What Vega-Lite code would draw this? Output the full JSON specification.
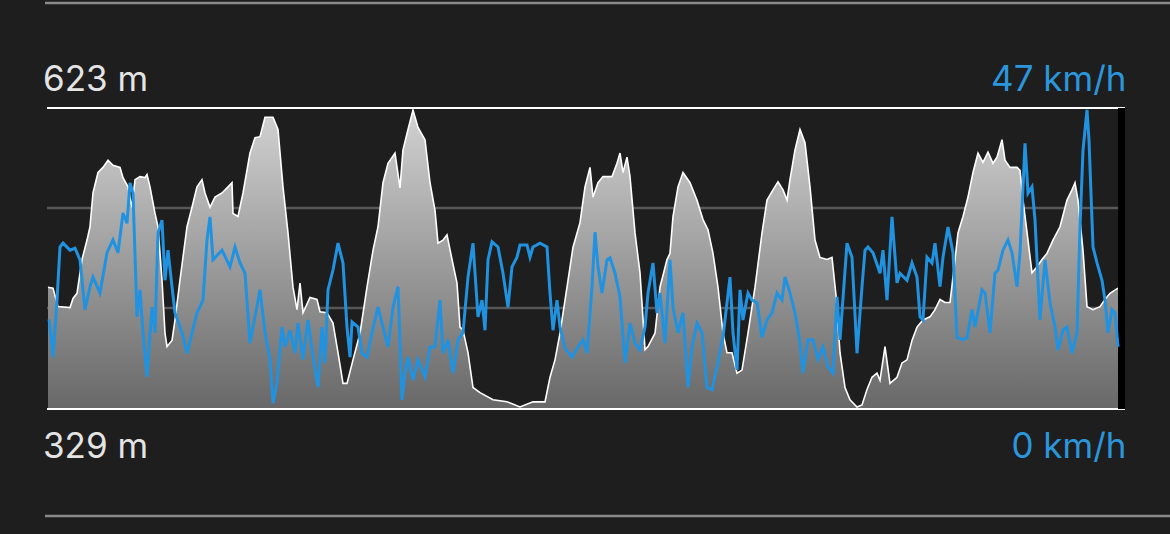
{
  "$schema": "https://vega.github.io/schema/vega-lite/v6.json",
  "width": 1078,
  "height": 301,
  "autosize": "none",
  "padding": {"left": 47, "top": 108, "right": 45, "bottom": 125},
  "background": "#1e1e1e",
  "config": {"view": {"stroke": null}},
  "datasets": {
    "elev": [
      {"d":48,"e":448},{"d":53,"e":447},{"d":58,"e":429},{"d":70,"e":428},{"d":73,"e":437},{"d":77,"e":442},{"d":82,"e":475},{"d":87,"e":494},{"d":90,"e":507},{"d":93,"e":540},{"d":98,"e":560},{"d":103,"e":565},{"d":108,"e":572},{"d":113,"e":567},{"d":120,"e":565},{"d":123,"e":555},{"d":128,"e":546},{"d":132,"e":526},{"d":135,"e":553},{"d":140,"e":556},{"d":145,"e":555},{"d":147,"e":558},{"d":150,"e":546},{"d":155,"e":520},{"d":158,"e":507},{"d":162,"e":455},{"d":165,"e":403},{"d":167,"e":390},{"d":172,"e":396},{"d":175,"e":416},{"d":180,"e":455},{"d":187,"e":507},{"d":192,"e":526},{"d":197,"e":546},{"d":202,"e":553},{"d":205,"e":540},{"d":210,"e":526},{"d":215,"e":536},{"d":222,"e":540},{"d":228,"e":546},{"d":232,"e":550},{"d":233,"e":520},{"d":238,"e":517},{"d":243,"e":540},{"d":250,"e":579},{"d":255,"e":594},{"d":260,"e":595},{"d":265,"e":614},{"d":273,"e":614},{"d":278,"e":602},{"d":283,"e":546},{"d":288,"e":501},{"d":293,"e":448},{"d":297,"e":426},{"d":300,"e":452},{"d":303,"e":423},{"d":310,"e":438},{"d":317,"e":436},{"d":320,"e":424},{"d":327,"e":423},{"d":333,"e":413},{"d":338,"e":384},{"d":343,"e":354},{"d":347,"e":354},{"d":353,"e":377},{"d":360,"e":403},{"d":367,"e":448},{"d":373,"e":484},{"d":378,"e":507},{"d":383,"e":550},{"d":388,"e":569},{"d":395,"e":579},{"d":400,"e":545},{"d":403,"e":582},{"d":408,"e":602},{"d":413,"e":621},{"d":418,"e":604},{"d":425,"e":592},{"d":430,"e":550},{"d":435,"e":523},{"d":438,"e":491},{"d":443,"e":494},{"d":447,"e":499},{"d":452,"e":475},{"d":457,"e":452},{"d":460,"e":409},{"d":463,"e":406},{"d":468,"e":384},{"d":473,"e":350},{"d":480,"e":345},{"d":493,"e":338},{"d":507,"e":336},{"d":520,"e":331},{"d":533,"e":336},{"d":545,"e":336},{"d":550,"e":360},{"d":555,"e":377},{"d":560,"e":403},{"d":567,"e":448},{"d":573,"e":487},{"d":580,"e":511},{"d":585,"e":546},{"d":590,"e":565},{"d":593,"e":536},{"d":598,"e":550},{"d":603,"e":556},{"d":612,"e":556},{"d":617,"e":569},{"d":620,"e":579},{"d":623,"e":560},{"d":627,"e":575},{"d":630,"e":556},{"d":635,"e":501},{"d":640,"e":462},{"d":645,"e":387},{"d":648,"e":390},{"d":655,"e":403},{"d":660,"e":448},{"d":667,"e":475},{"d":670,"e":481},{"d":673,"e":517},{"d":678,"e":546},{"d":683,"e":560},{"d":690,"e":550},{"d":697,"e":533},{"d":703,"e":514},{"d":708,"e":504},{"d":713,"e":481},{"d":718,"e":448},{"d":723,"e":403},{"d":727,"e":384},{"d":732,"e":384},{"d":737,"e":364},{"d":742,"e":367},{"d":748,"e":403},{"d":755,"e":448},{"d":762,"e":501},{"d":767,"e":533},{"d":773,"e":543},{"d":778,"e":551},{"d":783,"e":543},{"d":787,"e":533},{"d":790,"e":553},{"d":795,"e":582},{"d":800,"e":602},{"d":805,"e":589},{"d":810,"e":546},{"d":815,"e":494},{"d":820,"e":477},{"d":827,"e":475},{"d":832,"e":477},{"d":836,"e":440},{"d":840,"e":384},{"d":845,"e":350},{"d":850,"e":338},{"d":857,"e":331},{"d":862,"e":333},{"d":867,"e":348},{"d":872,"e":360},{"d":877,"e":364},{"d":880,"e":357},{"d":885,"e":390},{"d":890,"e":354},{"d":897,"e":360},{"d":902,"e":374},{"d":907,"e":377},{"d":912,"e":396},{"d":917,"e":409},{"d":923,"e":416},{"d":930,"e":419},{"d":935,"e":426},{"d":940,"e":436},{"d":945,"e":433},{"d":950,"e":433},{"d":953,"e":458},{"d":958,"e":501},{"d":963,"e":517},{"d":968,"e":536},{"d":973,"e":560},{"d":978,"e":579},{"d":983,"e":570},{"d":988,"e":580},{"d":993,"e":569},{"d":997,"e":575},{"d":1002,"e":592},{"d":1005,"e":572},{"d":1010,"e":565},{"d":1017,"e":565},{"d":1020,"e":562},{"d":1023,"e":533},{"d":1028,"e":494},{"d":1032,"e":462},{"d":1037,"e":468},{"d":1042,"e":475},{"d":1047,"e":481},{"d":1053,"e":494},{"d":1060,"e":507},{"d":1067,"e":533},{"d":1072,"e":543},{"d":1075,"e":550},{"d":1078,"e":533},{"d":1083,"e":484},{"d":1087,"e":429},{"d":1093,"e":426},{"d":1100,"e":429},{"d":1105,"e":436},{"d":1110,"e":442},{"d":1118,"e":447}
    ],
    "speed": [
      {"d":49,"s":14},{"d":50,"s":12.8},{"d":53,"s":8.1},{"d":57,"s":17.0},{"d":60,"s":25.3},{"d":63,"s":25.9},{"d":70,"s":24.8},{"d":75,"s":25.1},{"d":80,"s":23.3},{"d":85,"s":15.5},{"d":90,"s":19.1},{"d":93,"s":20.6},{"d":100,"s":18.1},{"d":107,"s":24.4},{"d":113,"s":26.4},{"d":118,"s":24.4},{"d":123,"s":30.6},{"d":127,"s":29.0},{"d":130,"s":35.3},{"d":133,"s":33.7},{"d":137,"s":14.4},{"d":140,"s":18.6},{"d":143,"s":11.9},{"d":147,"s":5.0},{"d":152,"s":15.9},{"d":155,"s":11.9},{"d":158,"s":27.5},{"d":162,"s":29.5},{"d":165,"s":20.1},{"d":168,"s":24.8},{"d":172,"s":19.1},{"d":175,"s":15.0},{"d":182,"s":11.9},{"d":187,"s":8.7},{"d":192,"s":11.9},{"d":197,"s":15.0},{"d":203,"s":17.0},{"d":207,"s":26.4},{"d":210,"s":30.0},{"d":213,"s":23.3},{"d":222,"s":24.8},{"d":230,"s":22.2},{"d":235,"s":25.3},{"d":240,"s":22.8},{"d":245,"s":21.2},{"d":250,"s":10.3},{"d":255,"s":14.4},{"d":260,"s":18.6},{"d":265,"s":11.9},{"d":270,"s":7.7},{"d":273,"s":0.9},{"d":277,"s":4.1},{"d":282,"s":12.8},{"d":285,"s":9.7},{"d":290,"s":12.3},{"d":295,"s":8.7},{"d":298,"s":13.4},{"d":303,"s":7.7},{"d":308,"s":13.9},{"d":313,"s":8.1},{"d":318,"s":3.4},{"d":322,"s":12.8},{"d":325,"s":7.2},{"d":328,"s":18.6},{"d":333,"s":21.7},{"d":338,"s":25.9},{"d":343,"s":22.8},{"d":347,"s":12.8},{"d":350,"s":8.1},{"d":352,"s":13.6},{"d":358,"s":12.8},{"d":362,"s":8.7},{"d":367,"s":8.1},{"d":372,"s":11.9},{"d":378,"s":15.9},{"d":383,"s":12.8},{"d":388,"s":9.7},{"d":393,"s":15.9},{"d":398,"s":19.1},{"d":402,"s":1.4},{"d":405,"s":5.6},{"d":408,"s":8.1},{"d":413,"s":4.5},{"d":418,"s":7.7},{"d":425,"s":5.0},{"d":430,"s":9.7},{"d":435,"s":9.7},{"d":440,"s":17.0},{"d":443,"s":8.7},{"d":448,"s":10.8},{"d":453,"s":5.6},{"d":458,"s":10.8},{"d":463,"s":11.9},{"d":468,"s":20.6},{"d":473,"s":25.9},{"d":478,"s":14.4},{"d":482,"s":17.0},{"d":485,"s":12.3},{"d":488,"s":23.3},{"d":492,"s":26.1},{"d":498,"s":25.3},{"d":503,"s":21.2},{"d":508,"s":15.9},{"d":512,"s":22.2},{"d":517,"s":23.7},{"d":520,"s":25.6},{"d":527,"s":25.6},{"d":530,"s":23.7},{"d":533,"s":25.3},{"d":540,"s":25.9},{"d":547,"s":25.3},{"d":550,"s":18.1},{"d":553,"s":12.3},{"d":557,"s":17.0},{"d":560,"s":12.8},{"d":565,"s":9.5},{"d":572,"s":8.1},{"d":578,"s":9.7},{"d":583,"s":10.8},{"d":587,"s":8.7},{"d":592,"s":19.1},{"d":595,"s":27.6},{"d":598,"s":22.2},{"d":602,"s":18.1},{"d":607,"s":23.3},{"d":610,"s":23.6},{"d":615,"s":21.2},{"d":620,"s":17.5},{"d":625,"s":7.2},{"d":630,"s":13.4},{"d":635,"s":10.3},{"d":640,"s":9.2},{"d":645,"s":12.8},{"d":648,"s":18.1},{"d":653,"s":22.8},{"d":657,"s":15.0},{"d":660,"s":18.1},{"d":665,"s":10.3},{"d":670,"s":23.3},{"d":673,"s":15.9},{"d":678,"s":11.9},{"d":683,"s":15.0},{"d":688,"s":3.4},{"d":692,"s":9.7},{"d":697,"s":13.4},{"d":702,"s":11.9},{"d":707,"s":3.4},{"d":712,"s":3.0},{"d":717,"s":6.6},{"d":723,"s":11.2},{"d":727,"s":16.6},{"d":730,"s":20.6},{"d":733,"s":11.9},{"d":737,"s":6.1},{"d":740,"s":18.6},{"d":743,"s":13.9},{"d":748,"s":18.1},{"d":752,"s":17.0},{"d":757,"s":16.6},{"d":762,"s":11.2},{"d":767,"s":13.9},{"d":772,"s":15.0},{"d":777,"s":18.1},{"d":782,"s":17.0},{"d":785,"s":20.6},{"d":790,"s":18.1},{"d":795,"s":15.0},{"d":800,"s":10.3},{"d":803,"s":5.6},{"d":808,"s":10.8},{"d":813,"s":10.8},{"d":818,"s":7.7},{"d":823,"s":9.7},{"d":828,"s":6.6},{"d":833,"s":5.6},{"d":837,"s":17.5},{"d":840,"s":10.8},{"d":847,"s":25.9},{"d":852,"s":23.7},{"d":857,"s":8.7},{"d":862,"s":19.1},{"d":865,"s":24.8},{"d":868,"s":25.3},{"d":873,"s":24.4},{"d":880,"s":21.2},{"d":883,"s":24.8},{"d":887,"s":17.0},{"d":892,"s":30.0},{"d":897,"s":19.7},{"d":900,"s":21.2},{"d":907,"s":20.1},{"d":912,"s":22.8},{"d":917,"s":20.6},{"d":920,"s":14.4},{"d":923,"s":13.9},{"d":927,"s":23.7},{"d":932,"s":22.8},{"d":935,"s":25.9},{"d":940,"s":19.1},{"d":943,"s":23.7},{"d":948,"s":28.4},{"d":953,"s":24.4},{"d":957,"s":11.2},{"d":963,"s":10.8},{"d":967,"s":11.1},{"d":972,"s":15.5},{"d":975,"s":12.8},{"d":982,"s":18.6},{"d":985,"s":18.1},{"d":990,"s":11.9},{"d":995,"s":21.2},{"d":998,"s":21.7},{"d":1003,"s":24.8},{"d":1008,"s":26.4},{"d":1012,"s":24.4},{"d":1017,"s":19.1},{"d":1020,"s":24.4},{"d":1025,"s":41.5},{"d":1028,"s":33.7},{"d":1032,"s":34.7},{"d":1035,"s":29.5},{"d":1040,"s":13.9},{"d":1045,"s":23.3},{"d":1050,"s":16.6},{"d":1055,"s":12.8},{"d":1058,"s":9.2},{"d":1063,"s":12.3},{"d":1067,"s":12.8},{"d":1072,"s":8.7},{"d":1077,"s":11.9},{"d":1080,"s":28.4},{"d":1083,"s":40.4},{"d":1087,"s":46.7},{"d":1089,"s":42.0},{"d":1093,"s":25.3},{"d":1097,"s":22.8},{"d":1102,"s":20.1},{"d":1105,"s":17.0},{"d":1108,"s":11.9},{"d":1112,"s":15.5},{"d":1115,"s":15.0},{"d":1118,"s":9.7}
    ],
    "hlines": [
      {"kind":"separator","x":45,"x2":1170,"e":725.6},
      {"kind":"separator","x":45,"x2":1170,"e":224.5},
      {"kind":"grid","x":47,"x2":1118,"e":525.3},
      {"kind":"grid","x":47,"x2":1118,"e":427.7}
    ],
    "frame": [
      {"x":47,"x2":1125,"e":623},
      {"x":47,"x2":1125,"e":329}
    ],
    "edges": [
      {"x":1118,"x2":1125,"e":329,"e2":623}
    ]
  },
  "encoding": {
    "x": {"field": "d", "type": "quantitative", "scale": {"domain": [47, 1125], "nice": false, "zero": false}, "axis": null}
  },
  "layer": [
    {
      "layer": [
        {
          "data": {"name": "hlines"},
          "mark": {"type": "rule"},
          "encoding": {
            "x": {"field": "x", "type": "quantitative"},
            "x2": {"field": "x2"},
            "y": {
              "field": "e", "type": "quantitative",
              "scale": {"domain": [329, 623], "nice": false, "zero": false},
              "axis": {
                "orient": "left", "values": [329, 623], "labelExpr": "datum.value + ' m'",
                "title": null, "domain": false, "ticks": false, "tickSize": 0, "grid": false,
                "labelAlign": "left", "labelBaseline": "alphabetic", "labelPadding": 4.5,
                "labelOffset": {"condition": {"test": "datum.value == 623", "value": -18}, "value": 48},
                "labelFont": "Inter, 'Inter Variable', Roboto, sans-serif", "labelFontSize": 35, "labelColor": "#e4e4e4", "labelFontWeight": "normal"
              }
            },
            "color": {"field": "kind", "type": "nominal", "scale": {"domain": ["separator", "grid"], "range": ["#8a8a8a", "#585858"]}, "legend": null},
            "strokeWidth": {"value": 2.5}
          }
        },
        {
          "data": {"name": "elev"},
          "mark": {
            "type": "area",
            "interpolate": "linear",
            "fill": {"gradient": "linear", "x1": 0, "y1": 0, "x2": 0, "y2": 1, "stops": [{"offset": 0, "color": "#d2d2d2"}, {"offset": 1, "color": "#686868"}]},
            "fillOpacity": 1,
            "line": {"color": "#ffffff", "strokeWidth": 1.6}
          },
          "encoding": {
            "y": {"field": "e", "type": "quantitative"},
            "y2": {"datum": 329}
          }
        },
        {
          "data": {"name": "frame"},
          "mark": {"type": "rule", "color": "#ffffff", "strokeWidth": 2.2},
          "encoding": {
            "x": {"field": "x", "type": "quantitative"},
            "x2": {"field": "x2"},
            "y": {"field": "e", "type": "quantitative"}
          }
        },
        {
          "data": {"name": "edges"},
          "mark": {"type": "rect", "color": "#000000"},
          "encoding": {
            "x": {"field": "x", "type": "quantitative"},
            "x2": {"field": "x2"},
            "y": {"field": "e", "type": "quantitative"},
            "y2": {"field": "e2"}
          }
        },
        {
          "data": {"name": "edges"},
          "mark": {"type": "rule", "color": "#ffffff", "strokeWidth": 3.5},
          "encoding": {
            "x": {"datum": 48.3, "type": "quantitative"},
            "y": {"field": "e", "type": "quantitative"},
            "y2": {"field": "e2"}
          }
        }
      ]
    },
    {
      "data": {"name": "speed"},
      "mark": {"type": "line", "color": "#2192e0", "strokeWidth": 3, "interpolate": "linear"},
      "encoding": {
        "y": {
          "field": "s", "type": "quantitative",
          "scale": {"domain": [0, 47], "nice": false, "zero": false},
          "axis": {
            "orient": "right", "values": [0, 47], "labelExpr": "datum.value + ' km/h'",
            "title": null, "domain": false, "ticks": false, "tickSize": 0, "grid": false,
            "labelAlign": "right", "labelBaseline": "alphabetic", "labelPadding": 1,
            "labelOffset": {"condition": {"test": "datum.value == 47", "value": -18}, "value": 48},
            "labelFont": "Inter, 'Inter Variable', Roboto, sans-serif", "labelFontSize": 35, "labelColor": "#2b96dc", "labelFontWeight": "normal"
          }
        }
      }
    }
  ],
  "resolve": {"scale": {"y": "independent"}, "axis": {"y": "independent"}}
}
